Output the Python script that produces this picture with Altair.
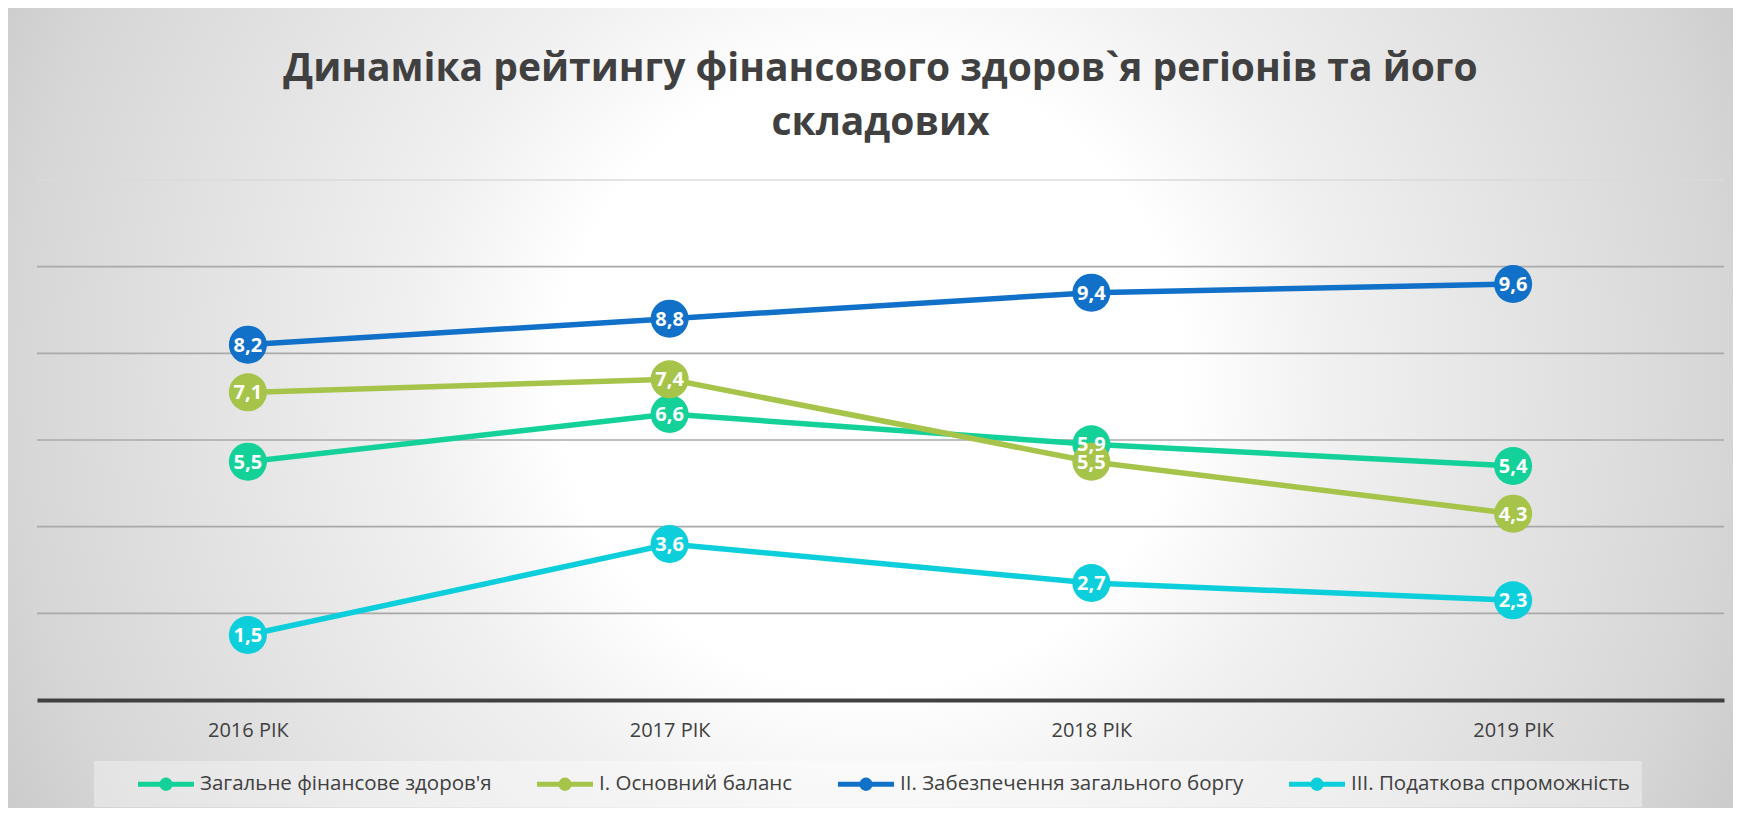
import altair as alt
import pandas as pd

# ---- data ----
years = ["2016 РІК", "2017 РІК", "2018 РІК", "2019 РІК"]
series = [
    "Загальне фінансове здоров'я",
    "І. Основний баланс",
    "ІІ. Забезпечення загального боргу",
    "ІІІ. Податкова спроможність",
]
zagalne = [5.5, 6.6, 5.9, 5.4]
osnovnyi = [7.1, 7.4, 5.5, 4.3]
zabezpechennia = [8.2, 8.8, 9.4, 9.6]
podatkova = [1.5, 3.6, 2.7, 2.3]
colors = ["#14D19A", "#A6C34A", "#1170C8", "#0DCFDB"]
grid_values = [2, 4, 6, 8, 10, 12]

rows = []
for name, vals in zip(series, [zagalne, osnovnyi, zabezpechennia, podatkova]):
    for yr, v in zip(years, vals):
        rows.append({"year": yr, "series": name, "value": v})
df = pd.DataFrame(rows)

W, H = 1687, 520
PL, PT, PR, PB = 29, 172, 9, 108
FONT = "Open Sans"

x_enc = alt.X("year:N", sort=years,
              scale=alt.Scale(type="point", padding=0.5),
              axis=alt.Axis(title=None, labelAngle=0, ticks=False, grid=False,
                            labelFont=FONT, labelFontSize=20, labelColor="#404040",
                            labelPadding=20, domainColor="#404040", domainWidth=4,
                            zindex=1))
y_scale = alt.Scale(domain=[0, 12], nice=False, zero=True)
color_scale = alt.Scale(domain=series, range=colors)
legend = alt.Legend(
    orient="none", legendX=57, legendY=581, direction="horizontal",
    columns=4, title=None, labelFont=FONT, labelFontSize=20.5,
    labelColor="#404040", labelLimit=500,
    symbolType=("M-2.545,-0.227 L-0.55,-0.227 A0.59,0.59 0 0,1 0.55,-0.227 "
                "L2.545,-0.227 L2.545,0.227 L0.55,0.227 "
                "A0.59,0.59 0 0,1 -0.55,0.227 L-2.545,0.227 Z"),
    symbolSize=484, symbolOffset=49, labelOffset=23, columnPadding=13,
    padding=12, fillColor="rgba(255,255,255,0.35)", symbolStrokeWidth=0,
    symbolOpacity=1,
)

# rect spans the whole picture; it runs far below so the vertical fall-off is gentler
RECT_TOP, RECT_BOTTOM = -PT, 1428
gradient = alt.RadialGradient(
    gradient="radial", x1=0.5, y1=0.25, r1=0, x2=0.5, y2=0.25, r2=0.6,
    stops=[
        alt.GradientStop(offset=0, color="#ffffff"),
        alt.GradientStop(offset=0.3, color="#ffffff"),
        alt.GradientStop(offset=0.45, color="#f0f0f0"),
        alt.GradientStop(offset=0.83, color="#d6d6d6"),
        alt.GradientStop(offset=1, color="#c4c4c4"),
    ],
)

background = alt.Chart(pd.DataFrame({"bg": [0]})).mark_rect(
    fill=gradient, clip=False
).encode(
    x=alt.value(-PL), x2=alt.value(W + PR),
    y=alt.value(RECT_TOP), y2=alt.value(RECT_BOTTOM),
)

grid = alt.Chart(pd.DataFrame({"g": grid_values})).mark_rule(strokeWidth=1.6).encode(
    y=alt.Y("g:Q", scale=y_scale, axis=None),
    stroke=alt.condition("datum.g == 12", alt.value("#dadada"), alt.value("#a9a9a9")),
)

base = alt.Chart(df)
lines = base.mark_line(strokeWidth=5.5).encode(
    x=x_enc,
    y=alt.Y("value:Q", scale=y_scale, axis=None),
    color=alt.Color("series:N", scale=color_scale, legend=legend),
    detail="series:N",
)
points = base.mark_circle(size=1450, opacity=1).encode(
    x=x_enc,
    y=alt.Y("value:Q", scale=y_scale, axis=None),
    color=alt.Color("series:N", scale=color_scale, legend=legend),
)
labels = base.transform_calculate(
    label="replace(format(datum.value, '.1f'), '.', ',')"
).mark_text(font=FONT, fontSize=20, fontWeight="bold", color="white",
            baseline="middle", dy=1).encode(
    x=x_enc,
    y=alt.Y("value:Q", scale=y_scale, axis=None),
    text="label:N",
)

chart = alt.layer(background, grid, lines, points, labels).properties(
    width=W, height=H,
    autosize=alt.AutoSizeParams(type="none"),
    padding={"left": PL, "top": PT, "right": PR, "bottom": PB},
    background="#c8c8c8",
    title=alt.TitleParams(
        text=["Динаміка рейтингу фінансового здоров`я регіонів та його", "складових"],
        font=FONT, fontSize=39, fontWeight="bold", color="#404040",
        anchor="middle", lineHeight=54, offset=-135,
    ),
).configure_view(stroke=None).configure(font=FONT)

chart.save("out.html", embed_options={"renderer": "svg", "actions": False})
